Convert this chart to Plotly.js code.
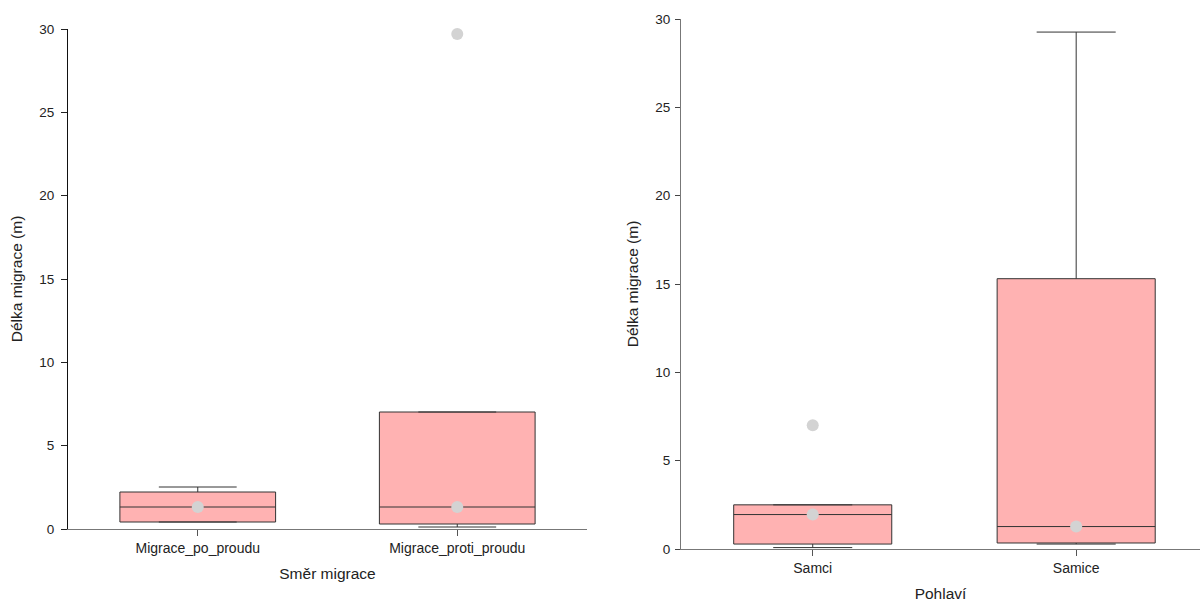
<!DOCTYPE html>
<html><head><meta charset="utf-8">
<script src="https://cdn.plot.ly/plotly-3.0.1.min.js"></script>
<style>html,body{margin:0;padding:0;background:#fff}#chart{width:1200px;height:602px}</style>
</head><body><div id="chart"></div>
<script>
// Left panel: migration direction
const dirCategories = ['Migrace_po_proudu', 'Migrace_proti_proudu'];
const dirLower  = [0.42, 0.12];
const dirQ1     = [0.42, 0.30];
const dirMedian = [1.32, 1.32];
const dirQ3     = [2.22, 7.02];
const dirUpper  = [2.52, 7.02];
const dirOutlierX = ['Migrace_proti_proudu'];
const dirOutlierY = [29.7];

// Right panel: sex
const sexCategories = ['Samci', 'Samice'];
const sexLower  = [0.08, 0.28];
const sexQ1     = [0.28, 0.34];
const sexMedian = [1.95, 1.27];
const sexQ3     = [2.50, 15.3];
const sexUpper  = [2.50, 29.26];
const sexOutlierX = ['Samci'];
const sexOutlierY = [7.0];

const yTickVals = [0, 5, 10, 15, 20, 25, 30];
const yTitle = 'Délka migrace (m)';

const boxFill = '#ffb2b2';
const boxLine = '#333333';
const dotColor = '#d3d3d3';

function boxTrace(cats, lo, q1, med, q3, up, xa, ya) {
  return {
    type: 'box', x: cats, lowerfence: lo, q1: q1, median: med, q3: q3, upperfence: up,
    boxpoints: false, width: 0.6, whiskerwidth: 0.5,
    fillcolor: boxFill, line: {color: boxLine, width: 1},
    xaxis: xa, yaxis: ya, hoverinfo: 'skip', showlegend: false
  };
}
function dotTrace(x, y, xa, ya) {
  return {
    type: 'scatter', mode: 'markers', x: x, y: y,
    marker: {color: dotColor, size: 12, line: {width: 0}},
    xaxis: xa, yaxis: ya, hoverinfo: 'skip', showlegend: false, cliponaxis: false
  };
}

const data = [
  boxTrace(dirCategories, dirLower, dirQ1, dirMedian, dirQ3, dirUpper, 'x', 'y'),
  boxTrace(sexCategories, sexLower, sexQ1, sexMedian, sexQ3, sexUpper, 'x2', 'y2'),
  dotTrace(dirCategories, dirMedian, 'x', 'y'),
  dotTrace(dirOutlierX, dirOutlierY, 'x', 'y'),
  dotTrace(sexCategories, sexMedian, 'x2', 'y2'),
  dotTrace(sexOutlierX, sexOutlierY, 'x2', 'y2')
];

const FAM = 'Liberation Sans, Arial, sans-serif';
const xTickFont = {family: FAM, size: 14, color: '#222'};
const yTickFont = {family: FAM, size: 13.5, color: '#222'};
const titleFont = {family: FAM, size: 15.5, color: '#222'};

const layout = {
  width: 1200, height: 602,
  margin: {l: 0, r: 0, t: 0, b: 0},
  paper_bgcolor: '#fff', plot_bgcolor: '#fff',
  showlegend: false,
  font: {family: FAM, size: 13, color: '#222'},
  xaxis: {
    domain: [68/1200, 587/1200], anchor: 'y', type: 'category',
    range: [-0.5, 1.5], showgrid: false, zeroline: false,
    showline: true, linecolor: '#777', linewidth: 1,
    ticks: 'outside', ticklen: 6, tickcolor: '#555', tickfont: xTickFont,
    title: {text: 'Směr migrace', font: titleFont, standoff: 13}
  },
  yaxis: {
    domain: [73/602, 573/602], anchor: 'x',
    range: [0, 30], tickvals: yTickVals, showgrid: false, zeroline: false,
    showline: true, linecolor: '#111', linewidth: 1,
    ticks: 'outside', ticklen: 6, tickcolor: '#222', tickfont: yTickFont,
    ticklabelstandoff: 4,
    title: {text: yTitle, font: titleFont, standoff: 12}
  },
  xaxis2: {
    domain: [681/1200, 1], anchor: 'y2', type: 'category',
    range: [-0.5, 1.47], showgrid: false, zeroline: false,
    showline: true, linecolor: '#777', linewidth: 1,
    ticks: 'outside', ticklen: 6, tickcolor: '#555', tickfont: xTickFont,
    title: {text: 'Pohlaví', font: titleFont, standoff: 15}
  },
  yaxis2: {
    domain: [53/602, 583/602], anchor: 'x2',
    range: [0, 30], tickvals: yTickVals, showgrid: false, zeroline: false,
    showline: true, linecolor: '#777', linewidth: 1,
    ticks: 'outside', ticklen: 5, tickcolor: '#444', tickfont: yTickFont,
    ticklabelstandoff: 2,
    title: {text: yTitle, font: titleFont, standoff: 12}
  }
};

Plotly.newPlot('chart', data, layout, {staticPlot: true, displayModeBar: false});
</script>
</body></html>
